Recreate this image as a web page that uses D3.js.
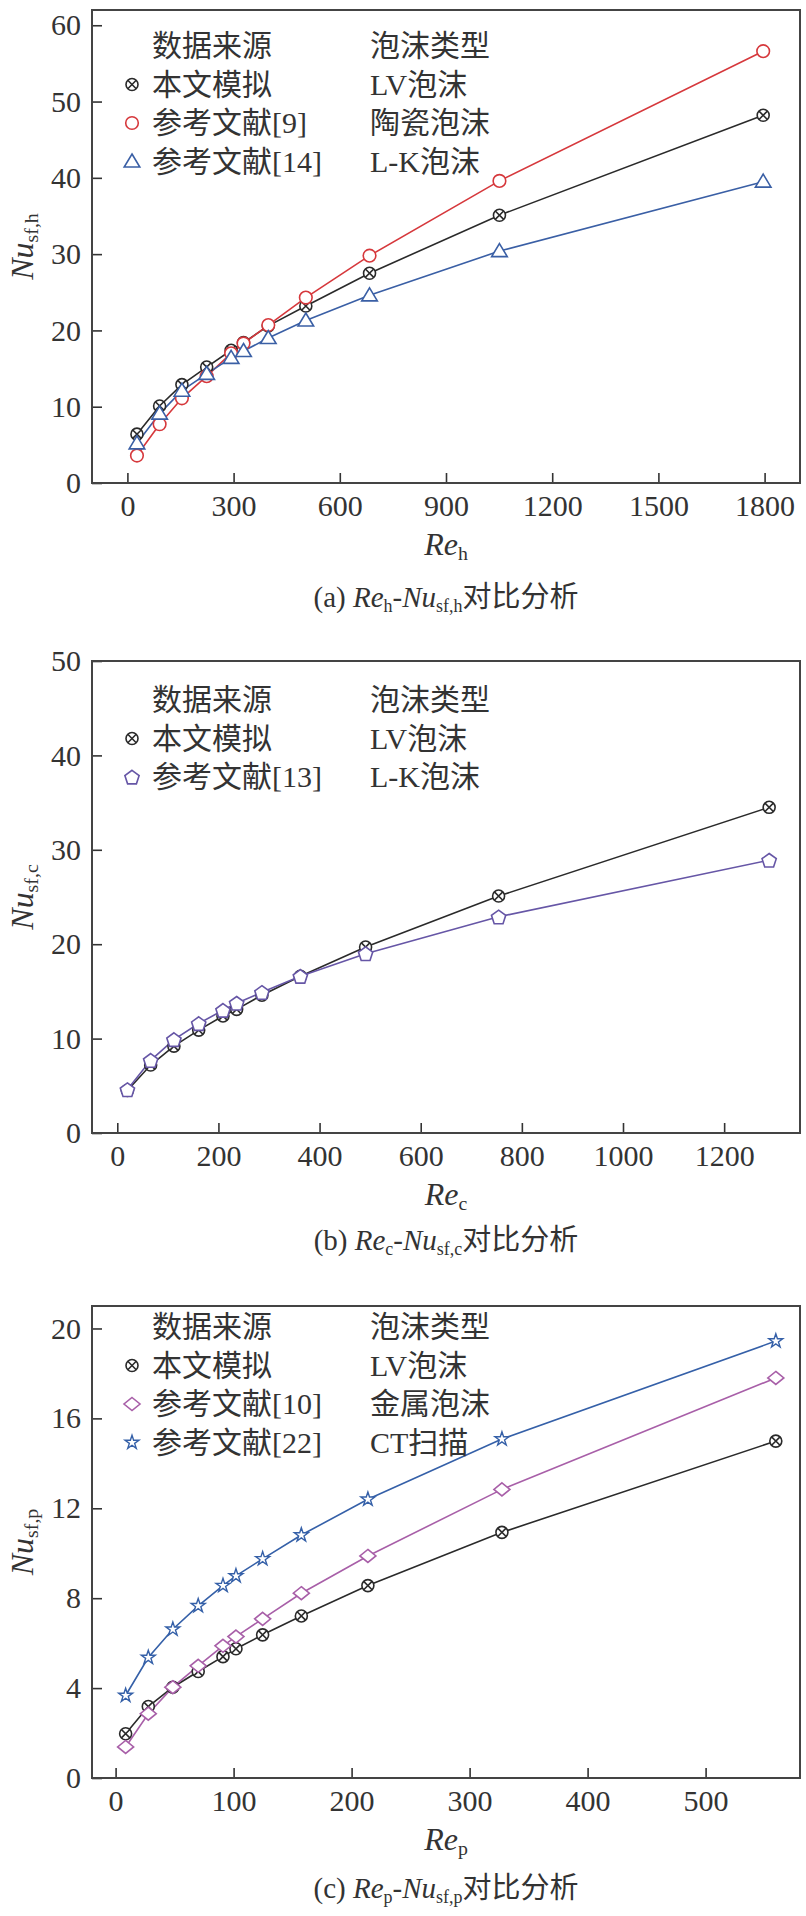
<!DOCTYPE html>
<html>
<head>
<meta charset="utf-8">
<style>
    body { margin: 0; background: #fff; }
    svg { display: block; }
    text { font-family: 'Liberation Serif', 'Noto Sans CJK SC', serif; fill: #333; }
    .tick text { font-size: 30px; fill: #333; }
    .tick line { stroke: #333; stroke-width: 1.6; }
    .domain { display: none; }
    .frame { fill: none; stroke: #444; stroke-width: 2; }
    .legend { font-size: 30px; }
    .axis-title { font-size: 32px; }
    .caption { font-size: 29px; }
</style>
</head>
<body>
<svg width="806" height="1916"></svg>

<script src="https://cdnjs.cloudflare.com/ajax/libs/d3/7.8.5/d3.min.js"></script>
<script>
    // ---- panel (a) Re_h - Nu_sf,h ----
    let reH = [27, 91, 154, 224, 293, 328, 398, 504, 684, 1051, 1796];
    let nuH_sim = [6.4, 10.1, 12.9, 15.2, 17.4, 18.4, 20.6, 23.2, 27.5, 35.1, 48.2];
    let nuH_ref9 = [3.6, 7.7, 11.1, 14.0, 17.0, 18.3, 20.7, 24.3, 29.8, 39.6, 56.6];
    let nuH_ref14 = [5.2, 9.1, 12.1, 14.3, 16.4, 17.3, 19.0, 21.3, 24.6, 30.4, 39.5];
    let xTicksH = [0, 300, 600, 900, 1200, 1500, 1800];
    let yTicksH = [0, 10, 20, 30, 40, 50, 60];

    // ---- panel (b) Re_c - Nu_sf,c ----
    let reC = [20, 66, 112, 161, 209, 236, 286, 362, 491, 754, 1289];
    let nuC_sim = [4.5, 7.2, 9.2, 10.9, 12.4, 13.1, 14.6, 16.6, 19.7, 25.1, 34.5];
    let nuC_ref13 = [4.6, 7.7, 9.9, 11.6, 13.0, 13.75, 14.9, 16.6, 19.0, 22.9, 28.9];
    let xTicksC = [0, 200, 400, 600, 800, 1000, 1200];
    let yTicksC = [0, 10, 20, 30, 40, 50];

    // ---- panel (c) Re_p - Nu_sf,p ----
    let reP = [8.5, 27.7, 48.5, 70, 91, 102, 124.6, 157.4, 213.8, 327.4, 559.5];
    let nuP_sim = [1.97, 3.18, 4.04, 4.74, 5.4, 5.75, 6.37, 7.21, 8.56, 10.93, 14.99];
    let nuP_ref10 = [1.38, 2.86, 4.04, 4.99, 5.88, 6.29, 7.08, 8.22, 9.88, 12.84, 17.8];
    let nuP_ref22 = [3.67, 5.36, 6.62, 7.66, 8.56, 8.99, 9.75, 10.81, 12.4, 15.08, 19.44];
    let xTicksP = [0, 100, 200, 300, 400, 500];
    let yTicksP = [0, 4, 8, 12, 16, 20];

    // legend texts
    let headSource = "数据来源";
    let headType = "泡沫类型";

    let svg = d3.select("svg");

    let panels = [
        {
            letter: "a", sub: "h", ysub: "sf,h",
            top: 10, bottom: 483, xDomain: [-100, 1900], yDomain: [0, 62],
            xTicks: xTicksH, yTicks: yTicksH, legendY: 46, captionY: 607,
            series: [
                { name: "本文模拟", type: "LV泡沫", x: reH, y: nuH_sim, color: "#2a2a2a", marker: "otimes" },
                { name: "参考文献[9]", type: "陶瓷泡沫", x: reH, y: nuH_ref9, color: "#d6383c", marker: "circle" },
                { name: "参考文献[14]", type: "L-K泡沫", x: reH, y: nuH_ref14, color: "#3a5fa5", marker: "triangle" }
            ]
        },
        {
            letter: "b", sub: "c", ysub: "sf,c",
            top: 661, bottom: 1133, xDomain: [-50, 1350], yDomain: [0, 50],
            xTicks: xTicksC, yTicks: yTicksC, legendY: 700, captionY: 1250,
            series: [
                { name: "本文模拟", type: "LV泡沫", x: reC, y: nuC_sim, color: "#2a2a2a", marker: "otimes" },
                { name: "参考文献[13]", type: "L-K泡沫", x: reC, y: nuC_ref13, color: "#6656a6", marker: "pentagon" }
            ]
        },
        {
            letter: "c", sub: "p", ysub: "sf,p",
            top: 1306, bottom: 1778, xDomain: [-20, 580], yDomain: [0, 21],
            xTicks: xTicksP, yTicks: yTicksP, legendY: 1327, captionY: 1898,
            series: [
                { name: "本文模拟", type: "LV泡沫", x: reP, y: nuP_sim, color: "#2a2a2a", marker: "otimes" },
                { name: "参考文献[10]", type: "金属泡沫", x: reP, y: nuP_ref10, color: "#a85fa8", marker: "diamond" },
                { name: "参考文献[22]", type: "CT扫描", x: reP, y: nuP_ref22, color: "#3560a8", marker: "star" }
            ]
        }
    ];

    let left = 92, right = 800;

    function polygon(pts) {
        return "M" + pts.map(p => p[0].toFixed(2) + "," + p[1].toFixed(2)).join("L") + "Z";
    }

    function drawMarker(g, kind, cx, cy, color) {
        let m = g.append("g").attr("transform", `translate(${cx},${cy})`)
            .attr("fill", "#fff").attr("stroke", color).attr("stroke-width", 1.6);
        if (kind == "otimes") {
            m.append("circle").attr("r", 6);
            m.append("path").attr("d", "M-4.2,-4.2L4.2,4.2M-4.2,4.2L4.2,-4.2");
        } else if (kind == "circle") {
            m.append("circle").attr("r", 6.3);
        } else if (kind == "triangle") {
            m.append("path").attr("d", polygon([[0, -7.5], [7.8, 5.5], [-7.8, 5.5]]));
        } else if (kind == "pentagon") {
            let pts = d3.range(5).map(i => {
                let a = -Math.PI / 2 + i * 2 * Math.PI / 5;
                return [7.5 * Math.cos(a), 7.5 * Math.sin(a) + 0.8];
            });
            m.append("path").attr("d", polygon(pts));
        } else if (kind == "diamond") {
            m.append("path").attr("d", polygon([[0, -6.5], [8, 0], [0, 6.5], [-8, 0]]));
        } else if (kind == "star") {
            m.append("path").attr("d", d3.symbol(d3.symbolStar, 60)()).attr("stroke-width", 1.4);
        }
    }

    // italic name + subscript, e.g. Re_h (sub shifted down by 5px)
    function addVar(t, name, sub) {
        t.append("tspan").attr("font-style", "italic").text(name);
        t.append("tspan").attr("font-size", "0.62em").attr("dy", 5).text(sub);
    }

    panels.forEach(p => {
        let x = d3.scaleLinear().domain(p.xDomain).range([left, right]);
        let y = d3.scaleLinear().domain(p.yDomain).range([p.bottom, p.top]);

        let g = svg.append("g").attr("class", "panel-" + p.letter);

        g.append("g")
            .attr("class", "x axis")
            .attr("transform", `translate(0,${p.bottom})`)
            .call(d3.axisBottom(x).tickValues(p.xTicks).tickSizeInner(-10).tickSizeOuter(0).tickPadding(12).tickFormat(d3.format("d")));

        g.append("g")
            .attr("class", "y axis")
            .attr("transform", `translate(${left},0)`)
            .call(d3.axisLeft(y).tickValues(p.yTicks).tickSizeInner(-10).tickSizeOuter(0).tickPadding(11).tickFormat(d3.format("d")));

        g.append("rect")
            .attr("class", "frame")
            .attr("x", left).attr("y", p.top)
            .attr("width", right - left).attr("height", p.bottom - p.top);

        let line = d3.line().x(d => x(d[0])).y(d => y(d[1]));

        p.series.forEach(s => {
            let pts = s.x.map((v, i) => [v, s.y[i]]);
            g.append("path")
                .attr("d", line(pts))
                .attr("fill", "none")
                .attr("stroke", s.color)
                .attr("stroke-width", 1.6);
        });
        p.series.forEach(s => {
            s.x.forEach((v, i) => drawMarker(g, s.marker, x(v), y(s.y[i]), s.color));
        });

        // legend
        let lg = g.append("g").attr("class", "legend");
        lg.append("text").attr("x", 152).attr("y", p.legendY + 10).text(headSource);
        lg.append("text").attr("x", 370).attr("y", p.legendY + 10).text(headType);
        p.series.forEach((s, i) => {
            let cy = p.legendY + 38.5 * (i + 1);
            drawMarker(lg, s.marker, 132, cy, s.color);
            lg.append("text").attr("x", 152).attr("y", cy + 10).text(s.name);
            lg.append("text").attr("x", 370).attr("y", cy + 10).text(s.type);
        });

        // axis titles
        let xt = g.append("text").attr("class", "axis-title")
            .attr("x", (left + right) / 2).attr("y", p.bottom + 72)
            .attr("text-anchor", "middle");
        addVar(xt, "Re", p.sub);

        let yt = g.append("text").attr("class", "axis-title")
            .attr("transform", `translate(33,${(p.top + p.bottom) / 2}) rotate(-90)`)
            .attr("text-anchor", "middle");
        addVar(yt, "Nu", p.ysub);

        // caption
        let cap = g.append("text").attr("class", "caption")
            .attr("x", (left + right) / 2).attr("y", p.captionY)
            .attr("text-anchor", "middle");
        cap.append("tspan").text("(" + p.letter + ") ");
        addVar(cap, "Re", p.sub);
        cap.append("tspan").attr("dy", -5).text("-");
        addVar(cap, "Nu", p.ysub);
        cap.append("tspan").attr("dy", -5).text("对比分析");
    });
</script>
</body>
</html>
